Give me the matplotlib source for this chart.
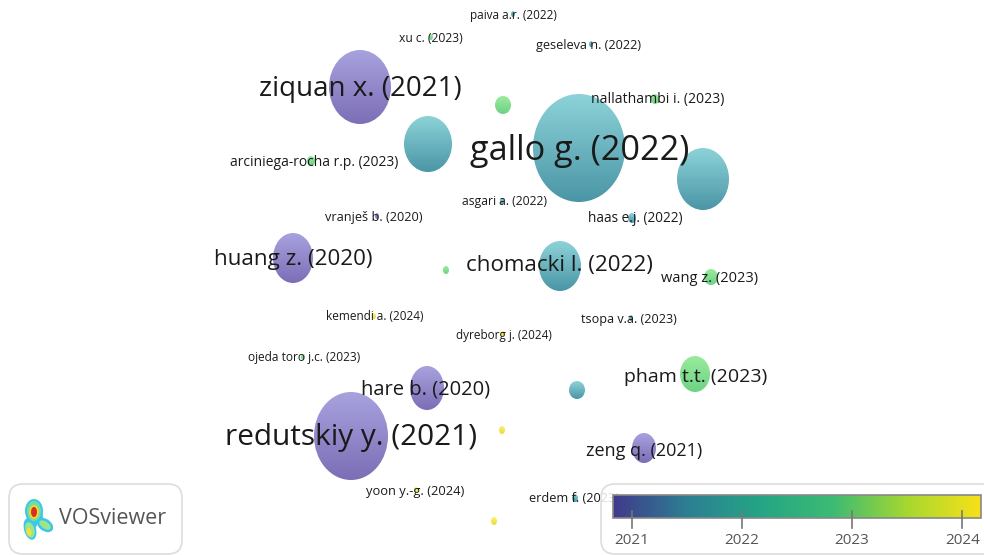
import numpy as np
import matplotlib.pyplot as plt
from matplotlib.colors import LinearSegmentedColormap
from matplotlib.patches import Ellipse, FancyBboxPatch

plt.rcParams['font.family'] = ['Open Sans', 'DejaVu Sans']

# bubbles, in picture pixels
node_x = [360, 579, 428, 703, 503, 560, 293, 427, 351, 644, 695, 577, 711, 446, 502, 494,
          431, 513, 591, 655, 311, 502, 377, 632, 374, 503, 631, 303, 416, 575]
node_y = [87, 148, 144, 179, 105, 266, 258, 388, 436, 448, 374, 390, 277, 270, 430, 521,
          37, 14, 44, 99, 161, 201, 216, 218, 316, 334, 318, 357, 490, 498]
node_rx = [31, 46, 24, 26, 8, 21, 20, 17, 37, 12, 15, 8, 7, 3, 3, 3,
           2, 2, 2, 4, 4, 2, 2, 4, 2, 2, 2, 2, 2, 3]
node_ry = [37, 54, 28, 31, 9, 25, 25, 22, 44, 15, 18, 9, 8, 4, 4, 4,
           3, 3, 3, 5, 5, 3, 3, 5, 3, 3, 3, 3, 3, 4]
node_year = [2021, 2022, 2022, 2022, 2023, 2022, 2021, 2021, 2021, 2021, 2023, 2022, 2023, 2023, 2024, 2024,
             2023, 2022, 2022, 2023, 2023, 2022, 2021, 2022, 2024, 2024, 2022, 2023, 2024, 2022]

labels = ["ziquan x. (2021)", "gallo g. (2022)", "chomacki l. (2022)", "redutskiy y. (2021)",
          "huang z. (2020)", "hare b. (2020)", "pham t.t. (2023)", "zeng q. (2021)", "wang z. (2023)",
          "paiva a.r. (2022)", "xu c. (2023)", "geseleva n. (2022)", "nallathambi i. (2023)",
          "arciniega-rocha r.p. (2023)", "asgari a. (2022)", "vranješ b. (2020)", "haas e.j. (2022)",
          "kemendi a. (2024)", "tsopa v.a. (2023)", "dyreborg j. (2024)", "ojeda toro j.c. (2023)",
          "yoon y.-g. (2024)", "erdem f. (2023)"]
label_x = [360, 580, 559, 351, 293, 426, 696, 644, 710,
           513, 431, 589, 658, 314, 504, 374, 635, 375, 629, 504, 304, 415, 574]
label_y = [89, 151, 266, 438, 259, 389, 377, 451, 278,
           15, 38, 45, 100, 162, 202, 217, 219, 317, 319, 335, 357, 491, 499]
label_size = [20, 24.7, 16.1, 21.4, 16.1, 14.5, 14, 13, 10.5,
              8.5, 8.7, 9.1, 10.1, 10, 8.7, 9.2, 9.8, 8.5, 9.1, 8.5, 8.6, 9.3, 9.2]

bar_ticks = [2021, 2022, 2023, 2024]

# top and bottom shade of a bubble per year
year_top = {2021: '#a7a2de', 2022: '#8cd2d8', 2023: '#9aeb9c', 2024: '#fbf07a'}
year_bottom = {2021: '#7d6eb6', 2022: '#4b96a6', 2023: '#6ed284', 2024: '#ecdc32'}

bar_cmap = LinearSegmentedColormap.from_list(
    'vos', ['#413a8c', '#2c7f92', '#25a585', '#3dbb74', '#a6d82f', '#f7e118'])
year_min, year_max = 2020.83, 2024.17

fig = plt.figure(figsize=(9.84, 5.55), dpi=100)
ax = fig.add_axes([0, 0, 1, 1])
grad_v = np.linspace(0, 1, 64).reshape(-1, 1)

for x, y, rx, ry, yr in zip(node_x, node_y, node_rx, node_ry, node_year):
    cm = LinearSegmentedColormap.from_list('n', [year_top[yr], year_bottom[yr]])
    im = ax.imshow(grad_v, cmap=cm, extent=[x - rx, x + rx, y + ry, y - ry], aspect='auto', zorder=2)
    clip = Ellipse((x, y), 2 * rx, 2 * ry, transform=ax.transData)
    im.set_clip_path(clip)

for t, x, y, s in zip(labels, label_x, label_y, label_size):
    ax.text(x, y, t, fontsize=s, ha='center', va='center', color='#1a1a1a', zorder=3)

# colour bar panel
ax.add_patch(FancyBboxPatch((601, 484), 420, 70, boxstyle='round,pad=0,rounding_size=14',
                            fc=(1, 1, 1, 0.85), ec='#dddddd', lw=1.2, zorder=4))
grad = np.linspace(0, 1, 256).reshape(1, -1)
ax.imshow(grad, cmap=bar_cmap, extent=[613, 981, 518, 495], aspect='auto', zorder=5)
ax.add_patch(plt.Rectangle((613, 495), 368, 23, fc='none', ec='#888888', lw=1.2, zorder=6))
for yr in bar_ticks:
    px = 613 + (yr - year_min) / (year_max - year_min) * 368
    ax.plot([px, px], [511, 528], color='#777777', lw=1.2, zorder=6)
    ax.text(px, 541, str(yr), fontsize=11, ha='center', va='center', color='#555555', zorder=6)

# logo panel
ax.add_patch(FancyBboxPatch((9, 484), 173, 70, boxstyle='round,pad=0,rounding_size=14',
                            fc='white', ec='#dddddd', lw=1.2, zorder=4))
ax.text(59, 518, "VOSviewer", fontsize=15.5, ha='left', va='center', color='#555555', zorder=6)
logo = [(34, 511, 9, 12, 0, '#3cc6ea'), (30, 529, 6, 11, -15, '#3cc6ea'), (45, 525, 9, 6, 35, '#3cc6ea'),
        (40, 518, 3, 7, 0, '#3cc6ea'), (33, 522, 4, 6, -15, '#3cc6ea'),
        (34, 511, 7, 10, 0, '#6fe0a0'), (30, 530, 4.5, 8, -15, '#9be58c'), (45, 525, 6.5, 3.5, 35, '#9be58c'),
        (34, 512, 5, 7, 0, '#e8d63a'), (29, 532, 2.5, 4, -15, '#f0e040'),
        (34, 512, 3, 5, 0, '#d9301c')]
for cx, cy, rx, ry, ang, col in logo:
    ax.add_patch(Ellipse((cx, cy), 2 * rx, 2 * ry, angle=ang, color=col, lw=0, zorder=5))

ax.set_xlim(0, 984)
ax.set_ylim(555, 0)
ax.axis('off')

fig.savefig('out.png', dpi=100)
